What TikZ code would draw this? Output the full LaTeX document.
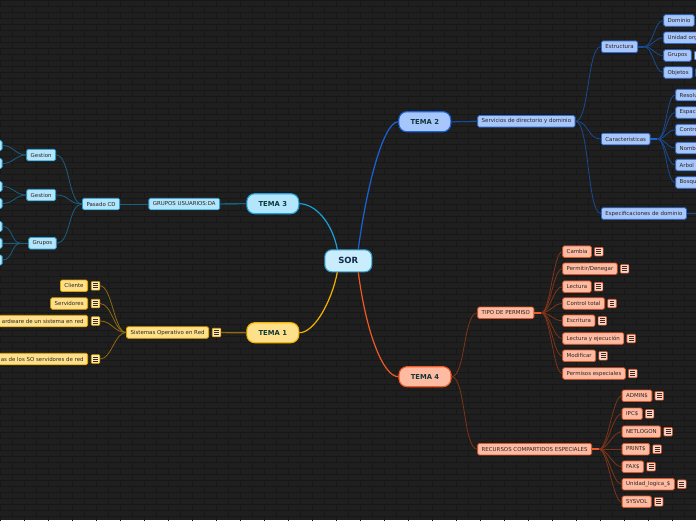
\documentclass[tikz,border=0pt]{standalone}
\usepackage{fontspec}
\setmainfont{DejaVu Sans}
\definecolor{bgc}{HTML}{1F1F1F}
\definecolor{mortar}{HTML}{171717}
\definecolor{tdark}{HTML}{0F3838}
\definecolor{sdark}{HTML}{2A2420}
\definecolor{sorfill}{HTML}{C9EDFC}
\definecolor{sordraw}{HTML}{2D9CCF}
\definecolor{sortext}{HTML}{14284A}
\definecolor{cyfill}{HTML}{B3E5FC}
\definecolor{cydraw}{HTML}{2AA0D4}
\definecolor{cyline}{HTML}{1B5E80}
\definecolor{cymain}{HTML}{1CA0DA}
\definecolor{yfill}{HTML}{FFE08A}
\definecolor{ydraw}{HTML}{E0A400}
\definecolor{yline}{HTML}{8C6B12}
\definecolor{ymain}{HTML}{F5B301}
\definecolor{yicon}{HTML}{FFEBB0}
\definecolor{bfill}{HTML}{A7C6FB}
\definecolor{bdraw}{HTML}{2F6BD1}
\definecolor{bline}{HTML}{1A4A92}
\definecolor{bmain}{HTML}{1B62D9}
\definecolor{bicon}{HTML}{C6DAFD}
\definecolor{ofill}{HTML}{FFBAA2}
\definecolor{odraw}{HTML}{D9552A}
\definecolor{oline}{HTML}{7E3419}
\definecolor{omain}{HTML}{EE5A24}
\definecolor{oicon}{HTML}{FFD3C3}
\definecolor{icline}{HTML}{3A2A22}
\tikzset{
  main/.style={rounded corners=8pt, minimum width=52pt, minimum height=20pt, inner sep=0pt,
    line width=1.1pt, font=\bfseries\fontsize{6.8}{7}\selectfont, text=tdark},
  sub/.style={rounded corners=1.5pt, minimum height=11.5pt, inner xsep=4pt, inner ysep=0pt,
    line width=0.8pt, font=\fontsize{5.45}{6}\selectfont, text=sdark},
  cyb/.style={sub, fill=cyfill, draw=cydraw},
  yb/.style={sub, fill=yfill, draw=ydraw},
  bb/.style={sub, fill=bfill, draw=bdraw},
  ob/.style={sub, fill=ofill, draw=odraw},
  clipR/.style={text width=#1, align=left},
  icon/.style={rounded corners=0.8pt, minimum width=8.5pt, minimum height=8.5pt, inner sep=0pt,
    line width=0.6pt, path picture={\foreach \s in {-2,0,2}{\draw[line width=0.7pt, icline]
      ([xshift=1.8pt,yshift=\s pt]path picture bounding box.west) --
      ([xshift=-1.8pt,yshift=\s pt]path picture bounding box.east);}}},
  iconY/.style={icon, fill=yicon, draw=ydraw},
  iconB/.style={icon, fill=bicon, draw=bdraw},
  iconO/.style={icon, fill=oicon, draw=odraw},
  ml/.style={line width=1.2pt},
  sl/.style={line width=0.8pt},
  jl/.style={line width=1.6pt}
}
\newcommand\oleaf[5]{%
  \node[ob, anchor=west] (#1) at (#2,#3) {#4};
  \node[iconO] (#1i) at ([xshift=7pt]#1.east) {};
  \draw[oline, sl] (#5) .. controls +(9,0) and +(-9,0) .. (#1.west);}
\newcommand\yleaf[3]{%
  \node[yb, anchor=east] (#1) at (88,#2) {#3};
  \node[iconY] (#1i) at ([xshift=7.5pt]#1.east) {};
  \draw[yline, sl] (#1i.east) .. controls +(12,0) and +(-12,0) .. (so.west);}
\newcommand\cleaf[3]{%
  \node[cyb, anchor=east, minimum width=14pt, minimum height=10pt] (#1) at (2.5,#2) {};
  \draw[cyline, sl] (#3) .. controls +(-11,0) and +(11,0) .. (#1.east);}
\begin{document}
\begin{tikzpicture}[x=1pt,y=-1pt]
\useasboundingbox (0,0) rectangle (696,520);
\clip (0,0) rectangle (696,520);
\fill[bgc] (0,0) rectangle (696,520);
\draw[mortar, line width=0.45pt] \foreach \r in {0,...,87} {(0,\r*6) -- (696,\r*6)};
\draw[mortar, line width=0.45pt] \foreach \r in {0,...,86} {\foreach \c in {0,...,29} {({\c*24+12*mod(\r,2)},\r*6) -- ++(0,6)}};

% central and main topics
\node[main, fill=sorfill, draw=sordraw, minimum width=47pt, minimum height=22pt, rounded corners=7pt,
  font=\bfseries\fontsize{8.5}{9}\selectfont, text=sortext] (sor) at (348.3,260.8) {SOR};
\node[main, fill=cyfill, draw=cymain] (t3) at (272.8,203.7) {TEMA 3};
\node[main, fill=yfill, draw=ymain] (t1) at (272.8,332.7) {TEMA 1};
\node[main, fill=bfill, draw=bmain] (t2) at (424.8,121.7) {TEMA 2};
\node[main, fill=ofill, draw=omain] (t4) at (425,376.7) {TEMA 4};

\draw[cymain, ml] ([xshift=-11pt]sor.north) .. controls (332,222) and (315,203.7) .. (t3.east);
\draw[ymain, ml] ([xshift=-11pt]sor.south) .. controls (332,300) and (315,332.7) .. (t1.east);
\draw[bmain, ml] ([xshift=10pt]sor.north) .. controls (366,190) and (383,121.7) .. (t2.west);
\draw[omain, ml] ([xshift=10pt]sor.south) .. controls (366,332) and (383,376.7) .. (t4.west);

% TEMA 3 branch
\node[cyb, anchor=east] (gu) at (220,204) {GRUPOS USUARIOS:DA};
\draw[cyline, line width=1.4pt] (t3.west) -- (gu.east);
\node[cyb, anchor=east] (pcd) at (120,204) {Pasado CD};
\draw[cyline, sl] (gu.west) -- (pcd.east);
\node[cyb, anchor=east] (g1) at (56,155) {Gestion};
\node[cyb, anchor=east] (g2) at (56,195) {Gestion};
\node[cyb, anchor=east] (gr) at (56.7,243.3) {Grupos};
\draw[cyline, sl] (pcd.west) .. controls +(-14,0) and +(14,0) .. (g1.east);
\draw[cyline, sl] (pcd.west) .. controls +(-14,0) and +(14,0) .. (g2.east);
\draw[cyline, sl] (pcd.west) .. controls +(-14,0) and +(14,0) .. (gr.east);
\coordinate (grJ) at ([xshift=-7pt]gr.west);
\draw[cyline, jl] (gr.west) -- (grJ);
\cleaf{c1}{145.5}{g1.west}
\cleaf{c2}{163.5}{g1.west}
\cleaf{c3}{186.5}{g2.west}
\cleaf{c4}{203.5}{g2.west}
\cleaf{c5}{226.5}{grJ}
\node[cyb, anchor=east, minimum width=14pt, minimum height=10pt] (c6) at (2.5,243.3) {};
\draw[cyline, jl] (grJ) -- (c6.east);
\cleaf{c7}{260}{grJ}

% TEMA 1 branch
\node[yb, anchor=east] (so) at (209,332.5) {Sistemas Operativo en Red};
\node[iconY] (soi) at ([xshift=7.5pt]so.east) {};
\draw[yline, line width=1.4pt] (t1.west) -- (soi.east);
\yleaf{y1}{285.8}{Cliente}
\yleaf{y2}{303.5}{Servidores}
\yleaf{y3}{321}{ardware de un sistema en red}
\yleaf{y4}{359}{as de los SO servidores de red}

% TEMA 2 branch
\node[bb, anchor=west] (sd) at (477.3,121.3) {Servicios de directorio y dominio};
\draw[bline, line width=1.3pt] (t2.east) -- (sd.west);
\node[bb, anchor=west] (es) at (601,46.7) {Estructura};
\node[bb, anchor=west] (ca) at (601,139) {Caracteristicas};
\node[bb, anchor=west] (ed) at (601,213.5) {Especificaciones de dominio};
\draw[bline, sl] (sd.east) .. controls +(14,0) and +(-14,0) .. (es.west);
\draw[bline, sl] (sd.east) .. controls +(14,0) and +(-14,0) .. (ca.west);
\draw[bline, sl] (sd.east) .. controls +(14,0) and +(-14,0) .. (ed.west);
\coordinate (edR) at (700,213.5);
\draw[bline, jl] (ed.east) -- (edR);
\coordinate (esJ) at ([xshift=6pt]es.east);
\draw[bline, jl] (es.east) -- (esJ);
\coordinate (caJ) at ([xshift=7pt]ca.east);
\draw[bmain, jl] (ca.east) -- (caJ);
\node[bb, anchor=west] (d1) at (663.3,20.5) {Dominio};
\node[bb, anchor=west, clipR=40pt] (d2) at (663.3,37.8) {Unidad org};
\node[bb, anchor=west] (d3) at (663.3,55.5) {Grupos};
\node[iconB] (d3i) at ([xshift=7pt]d3.east) {};
\node[bb, anchor=west] (d4) at (663.3,72.5) {Objetos};
\node[iconB] (d4i) at ([xshift=7pt]d4.east) {};
\foreach \n in {d1,d2,d3,d4} {\draw[bline, sl] (esJ) .. controls +(9,0) and +(-9,0) .. (\n.west);}
\node[bb, anchor=west, clipR=30pt] (k1) at (675.3,95) {Resolu};
\node[bb, anchor=west, clipR=30pt] (k2) at (675.3,112.5) {Espac};
\node[bb, anchor=west, clipR=30pt] (k3) at (675.3,130) {Contro};
\node[bb, anchor=west, clipR=30pt] (k4) at (675.3,148) {Nomb};
\node[bb, anchor=west, clipR=30pt] (k5) at (675.3,165) {Arbol};
\node[bb, anchor=west, clipR=30pt] (k6) at (675.3,182.5) {Bosqu};
\foreach \n in {k1,k2,k3,k4,k5,k6} {\draw[bline, sl] (caJ) .. controls +(9,0) and +(-9,0) .. (\n.west);}

% TEMA 4 branch
\node[ob, anchor=west] (tp) at (477.3,312.8) {TIPO DE PERMISO};
\node[ob, anchor=west] (rc) at (477.3,449.2) {RECURSOS COMPARTIDOS ESPECIALES};
\draw[oline, sl] (t4.east) .. controls +(14,0) and +(-14,0) .. (tp.west);
\draw[oline, sl] (t4.east) .. controls +(14,0) and +(-14,0) .. (rc.west);
\coordinate (tpJ) at ([xshift=7pt]tp.east);
\coordinate (rcJ) at ([xshift=7pt]rc.east);
\oleaf{p1}{562.3}{251.7}{Cambia}{tpJ}
\oleaf{p2}{562.3}{268.8}{Permitir/Denegar}{tpJ}
\oleaf{p3}{562.3}{286.7}{Lectura}{tpJ}
\oleaf{p4}{562.3}{303.5}{Control total}{tpJ}
\oleaf{p5}{562.3}{320.8}{Escritura}{tpJ}
\oleaf{p6}{562.3}{338.5}{Lectura y ejecución}{tpJ}
\oleaf{p7}{562.3}{355.8}{Modificar}{tpJ}
\oleaf{p8}{562.3}{373.5}{Permisos especiales}{tpJ}
\oleaf{r1}{621.7}{395.8}{ADMIN\$}{rcJ}
\oleaf{r2}{621.7}{413.8}{IPC\$}{rcJ}
\oleaf{r3}{621.7}{431.7}{NETLOGON}{rcJ}
\oleaf{r4}{621.7}{449.2}{PRINT\$}{rcJ}
\oleaf{r5}{621.7}{466.7}{FAX\$}{rcJ}
\oleaf{r6}{621.7}{484.2}{Unidad\_logica\_\$}{rcJ}
\oleaf{r7}{621.7}{501.8}{SYSVOL}{rcJ}
\draw[omain, jl] (tp.east) -- (tpJ);
\draw[omain, jl] (rc.east) -- (rcJ);
\end{tikzpicture}
\end{document}
